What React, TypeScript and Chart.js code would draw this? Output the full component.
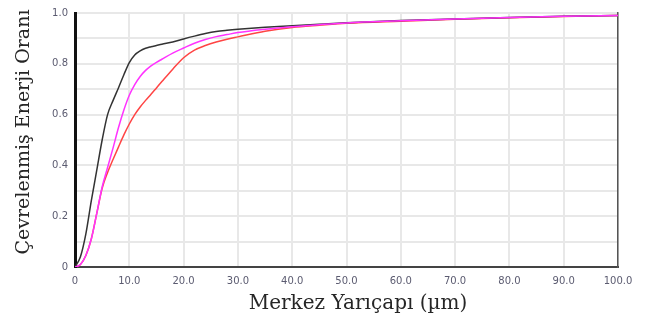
import React, { useEffect, useRef } from "react";
import { Chart, registerables } from "chart.js";

Chart.register(...registerables);

const radius = [0, 1, 2, 3, 4, 5, 6, 7, 8, 9, 10, 11, 12, 13, 14, 15, 16, 18, 20, 22, 24, 26, 28, 30, 35, 40, 45, 50, 60, 70, 80, 90, 100];
const blackSeries = [0, 0.04, 0.13, 0.26, 0.38, 0.5, 0.6, 0.655, 0.705, 0.757, 0.805, 0.835, 0.851, 0.861, 0.867, 0.872, 0.877, 0.886, 0.898, 0.909, 0.919, 0.927, 0.932, 0.936, 0.944, 0.95, 0.956, 0.962, 0.97, 0.976, 0.982, 0.987, 0.99];
const magentaSeries = [0, 0.01, 0.045, 0.11, 0.21, 0.315, 0.392, 0.468, 0.548, 0.618, 0.676, 0.718, 0.75, 0.774, 0.792, 0.806, 0.818, 0.842, 0.862, 0.881, 0.896, 0.907, 0.915, 0.923, 0.936, 0.946, 0.954, 0.961, 0.969, 0.976, 0.982, 0.987, 0.99];
const redSeries = [0, 0.01, 0.045, 0.11, 0.21, 0.31, 0.372, 0.423, 0.472, 0.52, 0.563, 0.6, 0.63, 0.656, 0.68, 0.705, 0.73, 0.779, 0.824, 0.854, 0.872, 0.886, 0.897, 0.906, 0.928, 0.943, 0.952, 0.96, 0.968, 0.975, 0.981, 0.986, 0.99];

const xTitle = "Merkez Yarıçapı (µm)";
const yTitle = "Çevrelenmiş Enerji Oranı";

const toPts = (ys: number[]) => radius.map((x, i) => ({ x, y: ys[i] }));

const titlePlugin = {
  id: "axisTitles",
  afterDraw(chart: any) {
    const ctx = chart.ctx;
    ctx.save();
    ctx.fillStyle = "#262626";
    ctx.textAlign = "center";
    ctx.textBaseline = "middle";
    ctx.font = "20px 'DejaVu Serif'";
    ctx.fillText(xTitle, 358, 304);
    ctx.translate(24, 132);
    ctx.rotate(-Math.PI / 2);
    ctx.font = "19px 'DejaVu Serif'";
    ctx.fillText(yTitle, 0, 0);
    ctx.restore();
  },
};

export default function App() {
  const ref = useRef<HTMLCanvasElement | null>(null);
  useEffect(() => {
    if (!ref.current) return;
    const tickFont = { family: "DejaVu Sans", size: 10 };
    const chart = new Chart(ref.current, {
      type: "scatter",
      data: {
        datasets: [
          { data: toPts(magentaSeries), borderColor: "#ff33ff", showLine: true, pointRadius: 0, borderWidth: 1.5, cubicInterpolationMode: "monotone" },
          { data: toPts(blackSeries), borderColor: "#333333", showLine: true, pointRadius: 0, borderWidth: 1.5, cubicInterpolationMode: "monotone" },
          { data: toPts(redSeries), borderColor: "#ff4444", showLine: true, pointRadius: 0, borderWidth: 1.5, cubicInterpolationMode: "monotone" },
        ],
      },
      options: {
        animation: false,
        responsive: false,
        layout: { padding: { top: 10, left: 0, right: 0, bottom: 0 } },
        plugins: { legend: { display: false }, tooltip: { enabled: false } },
        scales: {
          x: {
            type: "linear",
            min: 0,
            max: 100,
            afterFit: (s: any) => { s.height = 53; },
            ticks: {
              stepSize: 10,
              font: tickFont,
              color: "#5b5b70",
              padding: 8,
              maxRotation: 0,
              callback: (v: any) => (Number(v) === 0 ? "0" : Number(v).toFixed(1)),
            },
            grid: { color: "#e8e8e8", lineWidth: 2, drawTicks: false },
            border: { color: "#444444", width: 2 },
          },
          y: {
            type: "linear",
            min: 0,
            max: 1,
            afterFit: (s: any) => { s.width = 75; },
            ticks: {
              stepSize: 0.1,
              font: tickFont,
              color: "#5b5b70",
              padding: 7,
              callback: (v: any) => {
                const n = Math.round(Number(v) * 10);
                if (n % 2 !== 0) return "";
                return n === 0 ? "0" : (n / 10).toFixed(1);
              },
            },
            grid: { color: "#e8e8e8", lineWidth: 2, drawTicks: false },
            border: { color: "#111111", width: 3 },
          },
          y2: {
            type: "linear",
            position: "right",
            min: 0,
            max: 1,
            afterFit: (s: any) => { s.width = 28; },
            ticks: { display: false },
            grid: { display: false, drawTicks: false },
            border: { color: "#555555", width: 1.5 },
          },
        },
      },
      plugins: [titlePlugin],
    } as any);
    return () => chart.destroy();
  }, []);
  return (
    <div style={{ position: "absolute", left: 0, top: 0, width: 646, height: 320, background: "#fff" }}>
      <canvas ref={ref} width={646} height={320} style={{ width: 646, height: 320 }} />
    </div>
  );
}
